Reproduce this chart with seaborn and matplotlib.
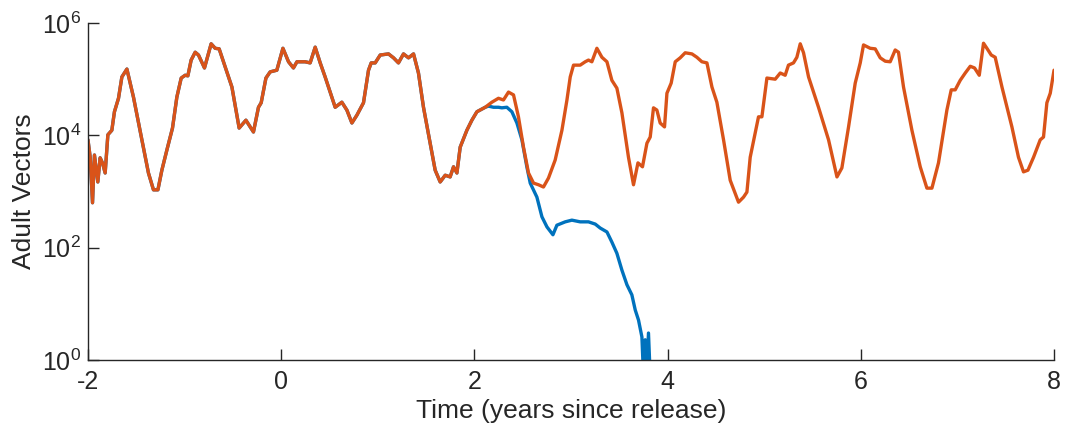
import numpy as np
import pandas as pd
import matplotlib
matplotlib.use("Agg")
import matplotlib.pyplot as plt
import seaborn as sns
from matplotlib.ticker import LogFormatterSciNotation, NullLocator

# ---- data (time in years, log10 of adult vectors) ----
orange_t = [-2.0, -1.977, -1.953, -1.933, -1.898, -1.874, -1.850, -1.822, -1.794, -1.753,
            -1.726, -1.684, -1.649, -1.597, -1.529, -1.442, -1.374, -1.322, -1.276, -1.235,
            -1.183, -1.125, -1.080, -1.035, -0.994, -0.966, -0.932, -0.890, -0.856, -0.794,
            -0.725, -0.683, -0.642, -0.580, -0.510, -0.435, -0.365, -0.321, -0.287, -0.235,
            -0.207, -0.158, -0.114, -0.045, 0.018, 0.076, 0.127, 0.163, 0.248, 0.300,
            0.352, 0.404, 0.455, 0.507, 0.559, 0.628, 0.680, 0.732, 0.784, 0.852,
            0.904, 0.932, 0.973, 1.025, 1.111, 1.163, 1.214, 1.266, 1.318, 1.370,
            1.421, 1.473, 1.542, 1.594, 1.646, 1.698, 1.749, 1.784, 1.819, 1.853,
            1.922, 1.974, 2.026, 2.112, 2.181, 2.249, 2.301, 2.353, 2.405, 2.456,
            2.508, 2.560, 2.612, 2.664, 2.715, 2.767, 2.836, 2.906, 2.958, 2.992,
            3.026, 3.095, 3.147, 3.181, 3.216, 3.268, 3.320, 3.372, 3.423, 3.475,
            3.527, 3.595, 3.647, 3.693, 3.740, 3.786, 3.820, 3.854, 3.889, 3.923,
            3.968, 3.993, 4.037, 4.079, 4.130, 4.182, 4.252, 4.303, 4.355, 4.407,
            4.459, 4.510, 4.579, 4.648, 4.734, 4.786, 4.821, 4.855, 4.907, 4.941,
            4.976, 5.028, 5.114, 5.166, 5.217, 5.251, 5.303, 5.338, 5.373, 5.407,
            5.459, 5.562, 5.666, 5.753, 5.804, 5.873, 5.942, 5.994, 6.028, 6.097,
            6.149, 6.201, 6.253, 6.304, 6.356, 6.390, 6.442, 6.529, 6.615, 6.684,
            6.736, 6.804, 6.891, 6.936, 6.977, 7.029, 7.081, 7.133, 7.177, 7.226,
            7.270, 7.305, 7.350, 7.391, 7.461, 7.564, 7.632, 7.684, 7.730, 7.788,
            7.857, 7.891, 7.926, 7.961, 8.0]
orange_log = [3.92, 3.61, 2.80, 3.65, 3.17, 3.60, 3.51, 3.33, 4.01, 4.09,
              4.42, 4.66, 5.04, 5.18, 4.68, 3.92, 3.33, 3.03, 3.03, 3.38,
              3.74, 4.13, 4.68, 5.02, 5.07, 5.06, 5.34, 5.48, 5.43, 5.20,
              5.63, 5.55, 5.54, 5.22, 4.86, 4.13, 4.27, 4.15, 4.06, 4.50,
              4.58, 5.02, 5.13, 5.16, 5.55, 5.31, 5.20, 5.31, 5.31, 5.29,
              5.57, 5.29, 5.04, 4.77, 4.50, 4.59, 4.45, 4.22, 4.36, 4.58,
              5.16, 5.29, 5.29, 5.43, 5.45, 5.38, 5.29, 5.45, 5.38, 5.45,
              5.11, 4.50, 3.86, 3.38, 3.17, 3.29, 3.26, 3.44, 3.33, 3.79,
              4.09, 4.27, 4.42, 4.50, 4.59, 4.66, 4.63, 4.77, 4.72, 4.33,
              3.79, 3.33, 3.15, 3.12, 3.08, 3.24, 3.56, 4.09, 4.63, 5.04,
              5.25, 5.25, 5.31, 5.34, 5.31, 5.55, 5.39, 5.31, 4.98, 4.84,
              4.40, 3.61, 3.12, 3.51, 3.44, 3.86, 3.97, 4.49, 4.45, 4.22,
              4.15, 4.75, 4.93, 5.31, 5.38, 5.47, 5.45, 5.39, 5.31, 5.29,
              4.86, 4.59, 3.92, 3.20, 2.81, 2.90, 2.99, 3.61, 4.04, 4.33,
              4.33, 5.02, 5.00, 5.11, 5.07, 5.25, 5.29, 5.39, 5.63, 5.47,
              5.04, 4.50, 3.92, 3.26, 3.42, 4.15, 4.93, 5.29, 5.61, 5.55,
              5.54, 5.38, 5.32, 5.31, 5.52, 5.48, 4.86, 4.09, 3.44, 3.06,
              3.06, 3.51, 4.45, 4.81, 4.81, 4.98, 5.11, 5.23, 5.20, 5.07,
              5.64, 5.55, 5.43, 5.39, 4.86, 4.15, 3.61, 3.35, 3.38, 3.61,
              3.92, 3.97, 4.58, 4.75, 5.16]

# blue run: identical to the orange run until ~2.1 years, then collapses
shared_n = 84
blue_t_tail = [2.146, 2.198, 2.249, 2.284, 2.336, 2.388, 2.440, 2.492, 2.543, 2.578,
               2.647, 2.699, 2.751, 2.813, 2.854, 2.940, 3.009, 3.095, 3.181, 3.251,
               3.302, 3.372, 3.423, 3.475, 3.527, 3.579, 3.630, 3.665, 3.699, 3.734,
               3.751, 3.768, 3.783, 3.802, 3.820]
blue_log_tail = [4.52, 4.50, 4.50, 4.49, 4.50, 4.42, 4.22, 3.92, 3.44, 3.15,
                 2.90, 2.55, 2.37, 2.23, 2.40, 2.46, 2.49, 2.46, 2.46, 2.42,
                 2.35, 2.28, 2.10, 1.90, 1.60, 1.34, 1.16, 0.89, 0.71, 0.41,
                 -0.3, 0.36, -0.3, 0.48, -0.3]

x_ticks = [-2, 0, 2, 4, 6, 8]
y_ticks = [1e0, 1e2, 1e4, 1e6]
x_label = "Time (years since release)"
y_label = "Adult Vectors"

blue_t = orange_t[:shared_n] + blue_t_tail
blue_log = orange_log[:shared_n] + blue_log_tail

df_blue = pd.DataFrame({"t": blue_t, "v": np.power(10.0, blue_log)})
df_orange = pd.DataFrame({"t": orange_t, "v": np.power(10.0, orange_log)})

# ---- style ----
sns.set_theme(style="ticks")
plt.rcParams["font.family"] = ["Liberation Sans", "DejaVu Sans"]
plt.rcParams["mathtext.fontset"] = "custom"
plt.rcParams["mathtext.rm"] = "Liberation Sans"
plt.rcParams["mathtext.it"] = "Liberation Sans:italic"
plt.rcParams["mathtext.default"] = "regular"

axis_col = "#262626"
fig = plt.figure(figsize=(10.65, 4.36), dpi=100)
ax = fig.add_axes([0.0826, 0.1743, 0.9071, 0.7729])

sns.lineplot(data=df_blue, x="t", y="v", ax=ax, color="#0072BD", linewidth=2.4,
             estimator=None, sort=False)
sns.lineplot(data=df_orange, x="t", y="v", ax=ax, color="#D95319", linewidth=2.4,
             estimator=None, sort=False)

ax.set_yscale("log")
ax.set_xlim(-2, 8)
ax.set_ylim(1, 1e6)
ax.set_xticks(x_ticks)
ax.set_xticklabels([str(v) for v in x_ticks])
ax.set_yticks(y_ticks)
ax.yaxis.set_major_formatter(LogFormatterSciNotation())
ax.yaxis.set_minor_locator(NullLocator())

ax.set_xlabel(x_label, fontsize=19, color=axis_col, labelpad=4)
ax.set_ylabel(y_label, fontsize=19, color=axis_col, labelpad=4)

for side in ["top", "right"]:
    ax.spines[side].set_visible(False)
for side in ["left", "bottom"]:
    ax.spines[side].set_color(axis_col)
    ax.spines[side].set_linewidth(1.0)

ax.tick_params(axis="both", which="major", direction="in", length=8, width=1.0,
               colors=axis_col, labelsize=18, labelcolor=axis_col)
ax.tick_params(axis="x", pad=7)
ax.tick_params(axis="y", pad=5)

fig.savefig("out.png", dpi=100)
